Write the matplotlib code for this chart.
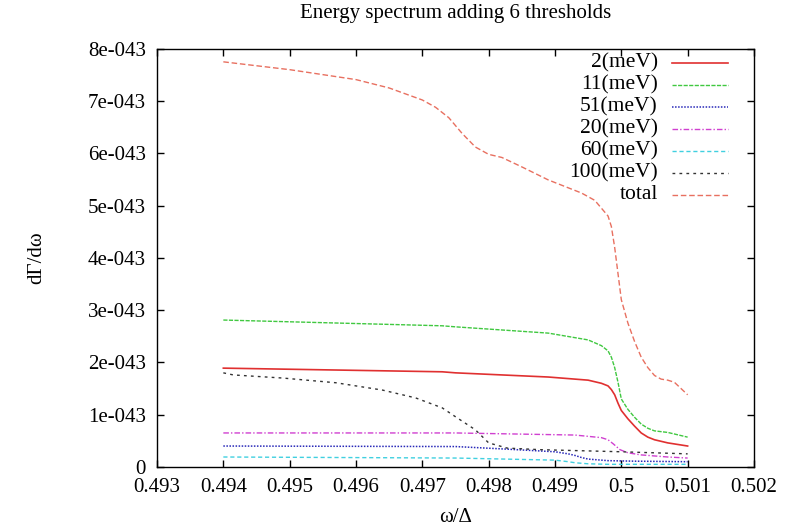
import matplotlib
matplotlib.use("Agg")
import matplotlib.pyplot as plt
from matplotlib.ticker import FuncFormatter

plt.rcParams['font.family'] = ['Liberation Serif', 'DejaVu Serif']

# ---- data (y in units of 1e-43) ----
x_2 = [0.494, 0.4973, 0.4975, 0.4989, 0.4995, 0.4997, 0.4998, 0.49985, 0.4999, 0.49995, 0.5000,
       0.5001, 0.5002, 0.5003, 0.5004, 0.5005, 0.5007, 0.5010]
y_2 = [1.89, 1.82, 1.80, 1.72, 1.66, 1.60, 1.55, 1.48, 1.38, 1.22, 1.08,
       0.92, 0.78, 0.65, 0.57, 0.52, 0.46, 0.40]

x_11 = [0.494, 0.4973, 0.4975, 0.4989, 0.4995, 0.4997, 0.4998, 0.49985, 0.4999, 0.49995, 0.5000,
        0.5001, 0.5002, 0.5003, 0.5004, 0.5005, 0.5007, 0.5010]
y_11 = [2.81, 2.70, 2.68, 2.56, 2.43, 2.32, 2.22, 2.10, 1.90, 1.62, 1.30,
        1.10, 0.95, 0.82, 0.74, 0.69, 0.66, 0.57]

x_51 = [0.494, 0.4975, 0.49828, 0.4990, 0.4992, 0.4993, 0.4994, 0.4995, 0.4998, 0.5002, 0.5010]
y_51 = [0.40, 0.39, 0.34, 0.29, 0.25, 0.22, 0.18, 0.15, 0.12, 0.11, 0.10]

x_20 = [0.494, 0.4975, 0.4993, 0.4997, 0.4998, 0.49988, 0.49998, 0.5001, 0.5003, 0.5007, 0.5010]
y_20 = [0.65, 0.65, 0.61, 0.56, 0.52, 0.44, 0.33, 0.27, 0.23, 0.19, 0.17]

x_60 = [0.494, 0.4975, 0.4990, 0.4992, 0.4993, 0.4995, 0.4998, 0.5003, 0.5010]
y_60 = [0.19, 0.17, 0.13, 0.10, 0.08, 0.06, 0.05, 0.05, 0.05]

x_100 = [0.494, 0.49415, 0.4949, 0.4957, 0.4964, 0.4969, 0.4973, 0.4975, 0.4978, 0.4980, 0.49828,
         0.49878, 0.5000, 0.5005, 0.5010]
y_100 = [1.80, 1.76, 1.70, 1.61, 1.47, 1.32, 1.13, 0.96, 0.71, 0.46, 0.36,
         0.33, 0.29, 0.27, 0.25]

x_tot = [0.494, 0.495, 0.496, 0.4965, 0.4970, 0.4972, 0.4974, 0.4976, 0.4978, 0.4980, 0.4982,
         0.4985, 0.4989, 0.4994, 0.4996, 0.4998, 0.49985, 0.4999, 0.49995, 0.5000, 0.5001,
         0.5002, 0.5003, 0.5004, 0.5005, 0.5006, 0.5007, 0.5008, 0.5009, 0.5010]
y_tot = [7.75, 7.60, 7.41, 7.25, 7.02, 6.88, 6.68, 6.38, 6.12, 5.98, 5.92,
         5.74, 5.49, 5.24, 5.10, 4.80, 4.60, 4.20, 3.70, 3.20, 2.75,
         2.40, 2.10, 1.90, 1.75, 1.68, 1.66, 1.62, 1.50, 1.38]

labels = ["2(meV)", "11(meV)", "51(meV)", "20(meV)", "60(meV)", "100(meV)", "total"]

xticks = [0.493, 0.494, 0.495, 0.496, 0.497, 0.498, 0.499, 0.5, 0.501, 0.502]
yticks = [0, 1, 2, 3, 4, 5, 6, 7, 8]

fig = plt.figure(figsize=(7.97, 5.30), dpi=100)
ax = fig.add_axes([0.197, 0.119, 0.749, 0.789])

styles = [
    dict(color='#e03030', lw=1.2, ls='-'),
    dict(color='#40c840', lw=1.0, ls=(0, (3, 1))),
    dict(color='#2828b8', lw=1.1, ls=(0, (1, 1))),
    dict(color='#d040d0', lw=1.0, ls=(0, (4, 1.5, 1, 1.5))),
    dict(color='#40d0e0', lw=1.0, ls=(0, (3, 2))),
    dict(color='#333333', lw=1.0, ls=(0, (2, 3))),
    dict(color='#e87060', lw=1.0, ls=(0, (4, 2))),
]
data = [(x_2, y_2), (x_11, y_11), (x_51, y_51), (x_20, y_20), (x_60, y_60), (x_100, y_100), (x_tot, y_tot)]
for (xs, ys), st, lab in zip(data, styles, labels):
    ax.plot(xs, ys, label=lab, **st)

ax.set_xlim(0.493, 0.502)
ax.set_ylim(0, 8)
ax.set_xticks(xticks)
ax.set_yticks(yticks)
ax.xaxis.set_major_formatter(FuncFormatter(lambda v, p: f"{v:g}"))
ax.yaxis.set_major_formatter(FuncFormatter(lambda v, p: "0" if abs(v) < 1e-9 else f"{v:g}e-043"))
ax.tick_params(direction='in', length=5, width=1.0, top=True, right=True, labelsize=15, pad=8)
for s in ax.spines.values():
    s.set_linewidth(1.0)

ax.set_title("Energy spectrum adding 6 thresholds", fontsize=15, pad=22)
ax.set_xlabel("ω/Δ", fontsize=15, labelpad=8)
ax.set_ylabel("dΓ/dω", fontsize=15, labelpad=30)

# legend (gnuplot style: right-aligned labels, sample lines to the right)
text_right = 0.839
line_x0, line_x1 = 0.863, 0.956
top_frac = (467 - 63) / 418.0
row = 22 / 418.0
for i, (lab, st) in enumerate(zip(labels, styles)):
    yy = top_frac - i * row
    ax.text(text_right, yy, lab, transform=ax.transAxes, ha='right', va='center', fontsize=15.5)
    ax.plot([line_x0, line_x1], [yy, yy], transform=ax.transAxes, clip_on=False, **st)

fig.savefig("out.png", dpi=100)
